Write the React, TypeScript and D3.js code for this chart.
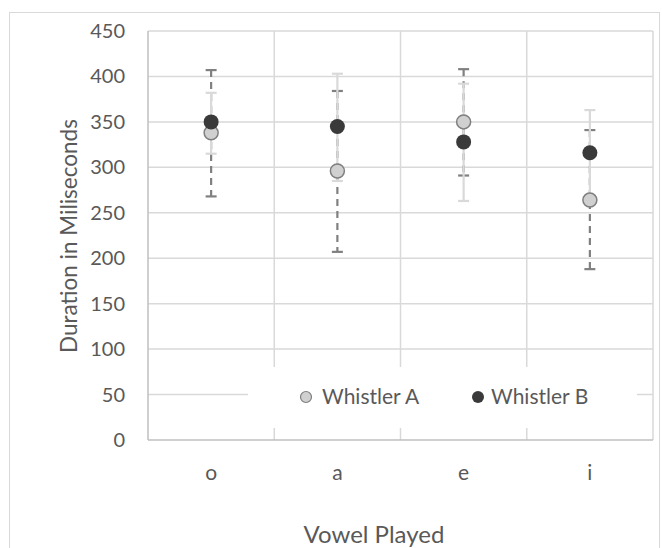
import React from 'react';
import * as d3 from 'd3';

const vowels = ['o', 'a', 'e', 'i'];
const whistlerA = [338, 296, 350, 264];
const whistlerAHigh = [382, 403, 392, 363];
const whistlerALow = [315, 285, 263, 260];
const whistlerB = [350, 345, 328, 316];
const whistlerBHigh = [407, 384, 408, 341];
const whistlerBLow = [268, 207, 291, 188];
const yTicks = [0, 50, 100, 150, 200, 250, 300, 350, 400, 450];

const W = 662;
const H = 548;
const font = 'Lato, "Noto Sans", sans-serif';
const textColor = '#595959';

const App: React.FC = () => {
  const x = d3.scaleBand<string>().domain(vowels).range([148, 653]);
  const y = d3.scaleLinear().domain([0, 450]).range([440, 31]);
  const bw = x.bandwidth();
  const cx = (v: string) => (x(v) as number) + bw / 2;

  const errorBar = (i: number, hi: number, lo: number, color: string, dash?: string) => {
    const px = cx(vowels[i]);
    return (
      <g key={i}>
        <line x1={px} x2={px} y1={y(hi)} y2={y(lo)} stroke={color} strokeWidth={2.2} strokeDasharray={dash} />
        <line x1={px - 5.5} x2={px + 5.5} y1={y(hi)} y2={y(hi)} stroke={color} strokeWidth={2.2} />
        <line x1={px - 5.5} x2={px + 5.5} y1={y(lo)} y2={y(lo)} stroke={color} strokeWidth={2.2} />
      </g>
    );
  };

  return (
    <div style={{ position: 'absolute', left: 0, top: 0 }}>
      <svg width={W} height={H} style={{ display: 'block', fontFamily: font }}>
        <rect x={0} y={0} width={W} height={H} fill="#fff" />
        <rect x={9.5} y={12.5} width={650} height={560} fill="none" stroke="#d9d9d9" strokeWidth={1} />

        {/* horizontal gridlines */}
        {yTicks.filter(t => t > 0).map(t => (
          <line key={t} x1={148} x2={653} y1={y(t)} y2={y(t)} stroke="#d9d9d9" strokeWidth={1.5} />
        ))}
        {/* vertical gridlines between categories */}
        {vowels.map(v => (
          <line key={v} x1={(x(v) as number) + bw} x2={(x(v) as number) + bw} y1={31} y2={440}
            stroke="#d9d9d9" strokeWidth={1.5} />
        ))}
        {/* axes */}
        <line x1={148} x2={148} y1={31} y2={440} stroke="#bfbfbf" strokeWidth={1.5} />
        <line x1={148} x2={653} y1={440} y2={440} stroke="#bfbfbf" strokeWidth={1.5} />

        {/* y tick labels */}
        {yTicks.map(t => (
          <text key={t} x={125} y={y(t)} dy="0.35em" textAnchor="end" fontSize={20} fill={textColor}>{t}</text>
        ))}
        {/* x tick labels */}
        {vowels.map(v => (
          <text key={v} x={cx(v)} y={473} dy="0.35em" textAnchor="middle" fontSize={21} fill={textColor}>{v}</text>
        ))}

        {/* axis titles */}
        <text transform="translate(69,236) rotate(-90)" dy="0.35em" textAnchor="middle" fontSize={22.5} fill={textColor}>
          Duration in Miliseconds
        </text>
        <text x={374} y={535} dy="0.35em" textAnchor="middle" fontSize={24} fill={textColor}>Vowel Played</text>

        {/* error bars: B dashed first, A light on top */}
        {whistlerB.map((_, i) => errorBar(i, whistlerBHigh[i], whistlerBLow[i], '#808080', '7,5'))}
        {whistlerA.map((_, i) => errorBar(i, whistlerAHigh[i], whistlerALow[i], '#d9d9d9'))}

        {/* markers */}
        {whistlerA.map((v, i) => (
          <circle key={'a' + i} cx={cx(vowels[i])} cy={y(v)} r={7} fill="#d0d0d0" stroke="#7f7f7f" strokeWidth={1.5} />
        ))}
        {whistlerB.map((v, i) => (
          <circle key={'b' + i} cx={cx(vowels[i])} cy={y(v)} r={7.5} fill="#3a3a3a" />
        ))}

        {/* legend */}
        <rect x={248} y={367} width={389} height={61} fill="#fff" />
        <circle cx={306} cy={397} r={5.5} fill="#d0d0d0" stroke="#7f7f7f" strokeWidth={1.2} />
        <text x={322} y={397} dy="0.35em" fontSize={21} fill={textColor}>Whistler A</text>
        <circle cx={478} cy={397} r={6} fill="#3a3a3a" />
        <text x={491} y={397} dy="0.35em" fontSize={21} fill={textColor}>Whistler B</text>
      </svg>
    </div>
  );
};

export default App;
